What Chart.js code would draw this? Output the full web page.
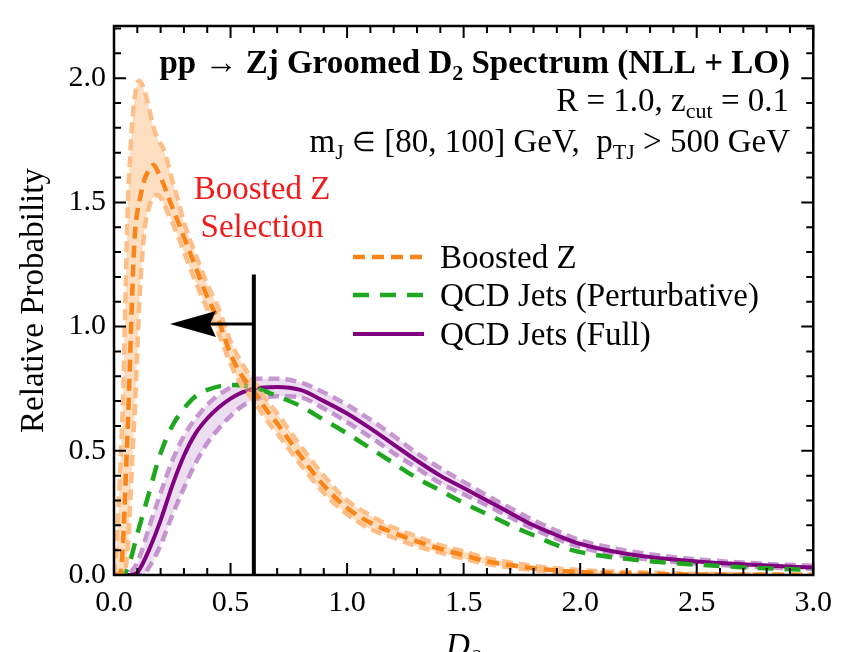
<!DOCTYPE html>
<html><head><meta charset="utf-8">
<script src="https://cdn.jsdelivr.net/npm/chart.js@4.4.1/dist/chart.umd.min.js"></script>
<style>html,body{margin:0;padding:0;background:#fff;}#wrap{width:842px;height:652px;position:relative;}</style>
</head><body><div id="wrap"><canvas id="c" width="842" height="652"></canvas></div>
<script>
// ---------- data ----------
const orangeX = [0,0.01,0.02,0.03,0.04,0.05,0.06,0.07,0.08,0.09,
  0.10,0.11,0.13,0.15,0.17,0.19,0.21,0.23,0.25,0.28,
  0.30,0.35,0.40,0.45,0.50,0.55,0.60,0.65,0.70,0.80,
  0.90,1.0,1.1,1.2,1.3,1.4,1.5,1.6,1.7,1.8,
  2.0,2.2,2.4,2.7,3.0];
const boostedZ = [0,0,0,0.02,0.15,0.38,0.62,0.9,1.18,1.38,
  1.46,1.51,1.59,1.63,1.65,1.62,1.58,1.53,1.48,1.41,
  1.36,1.24,1.12,1.02,0.89,0.80,0.74,0.67,0.61,0.48,
  0.36,0.27,0.21,0.17,0.135,0.105,0.08,0.055,0.04,0.027,
  0.012,0.006,0.003,0.001,0];
const boostedZUpper = [0,0.1,0.28,0.5,0.75,1.15,1.5,1.7,1.84,1.93,
  1.98,1.99,1.95,1.88,1.80,1.75,1.72,1.66,1.59,1.49,
  1.42,1.29,1.17,1.07,0.94,0.85,0.78,0.71,0.65,0.52,
  0.40,0.30,0.24,0.19,0.155,0.12,0.095,0.068,0.05,0.036,
  0.02,0.012,0.007,0.003,0.001];
const boostedZLower = [0,0,0,0,0,0.03,0.12,0.3,0.5,0.68,
  0.9,1.12,1.38,1.48,1.52,1.53,1.50,1.46,1.42,1.35,
  1.30,1.18,1.07,0.97,0.85,0.76,0.70,0.63,0.57,0.445,
  0.33,0.245,0.185,0.15,0.115,0.09,0.065,0.045,0.03,0.02,
  0.006,0.002,0.001,0,0];

const purpleX = [0,0.05,0.07,0.1,0.12,0.15,0.2,0.25,0.3,0.35,
  0.4,0.45,0.5,0.55,0.6,0.7,0.8,0.9,1.0,1.1,
  1.2,1.3,1.4,1.5,1.6,1.7,1.8,1.9,2.0,2.2,
  2.4,2.6,2.8,3.0];
const qcdFull = [0,0,0,0.01,0.04,0.1,0.22,0.36,0.48,0.57,
  0.63,0.675,0.71,0.735,0.75,0.757,0.745,0.70,0.65,0.59,
  0.525,0.46,0.40,0.35,0.30,0.25,0.20,0.16,0.125,0.085,
  0.062,0.048,0.038,0.03];
const qcdFullUpper = [0,0,0.01,0.05,0.1,0.19,0.33,0.46,0.56,0.63,
  0.685,0.725,0.755,0.775,0.79,0.79,0.775,0.735,0.685,0.625,
  0.56,0.49,0.43,0.375,0.32,0.27,0.22,0.178,0.14,0.098,
  0.072,0.056,0.045,0.037];
const qcdFullLower = [0,0,0,0,0,0.03,0.12,0.24,0.35,0.45,
  0.53,0.59,0.64,0.68,0.705,0.72,0.715,0.67,0.615,0.555,
  0.49,0.43,0.37,0.325,0.28,0.232,0.185,0.145,0.112,0.074,
  0.053,0.04,0.031,0.024];

const greenX = [0,0.03,0.06,0.1,0.15,0.2,0.25,0.3,0.35,0.4,
  0.5,0.6,0.7,0.8,0.9,1.0,1.1,1.2,1.3,1.4,
  1.5,1.6,1.7,1.8,1.9,2.0,2.2,2.4,2.6,2.8,3.0];
const qcdPert = [0,0,0.03,0.165,0.33,0.49,0.6,0.67,0.72,0.745,
  0.765,0.755,0.72,0.68,0.625,0.57,0.51,0.45,0.39,0.34,
  0.29,0.245,0.2,0.16,0.12,0.092,0.065,0.048,0.036,0.027,0.02];

const xTickValues = [0,0.5,1.0,1.5,2.0,2.5,3.0];
const yTickValues = [0,0.5,1.0,1.5,2.0];
const legendLabels = ['Boosted Z','QCD Jets (Perturbative)','QCD Jets (Full)'];
const selectionLabel = ['Boosted Z','Selection'];
const selectionCut = 0.6, selectionTop = 1.21, arrowY = 1.01, arrowTip = 0.24;

// ---------- styles ----------
const SERIF = "'Liberation Serif','Times New Roman',serif";
const C_OR = '#F98518', C_OR_EDGE = '#FDBE88', C_OR_FILL = 'rgba(252,185,125,0.48)';
const C_GR = '#1FA71F';
const C_PU = '#800080', C_PU_EDGE = '#C798D0', C_PU_FILL = 'rgba(180,120,200,0.25)';

const pts = (xs, ys) => xs.map((x, i) => ({x: x, y: ys[i]}));
const common = {pointRadius: 0, cubicInterpolationMode: 'monotone', borderCapStyle: 'butt'};

const datasets = [
  Object.assign({label: 'Boosted Z', data: pts(orangeX, boostedZ), borderColor: C_OR, borderWidth: 4.5, borderDash: [12, 7], fill: false}, common),
  Object.assign({label: 'BZ upper', data: pts(orangeX, boostedZUpper), borderColor: C_OR_EDGE, borderWidth: 4.5, borderDash: [11, 6], fill: '+1', backgroundColor: C_OR_FILL}, common),
  Object.assign({label: 'BZ lower', data: pts(orangeX, boostedZLower), borderColor: C_OR_EDGE, borderWidth: 4.5, borderDash: [11, 6], fill: false}, common),
  Object.assign({label: 'QCD pert', data: pts(greenX, qcdPert), borderColor: C_GR, borderWidth: 4.5, borderDash: [16, 11], fill: false}, common),
  Object.assign({label: 'QCD full', data: pts(purpleX, qcdFull), borderColor: C_PU, borderWidth: 4, fill: false}, common),
  Object.assign({label: 'QCD upper', data: pts(purpleX, qcdFullUpper), borderColor: C_PU_EDGE, borderWidth: 4.5, borderDash: [11, 6], fill: '+1', backgroundColor: C_PU_FILL}, common),
  Object.assign({label: 'QCD lower', data: pts(purpleX, qcdFullLower), borderColor: C_PU_EDGE, borderWidth: 4.5, borderDash: [11, 6], fill: false}, common)
];

function drawRich(ctx, segs, xRight, y) {
  let total = 0;
  segs.forEach(s => { ctx.font = s[1]; total += ctx.measureText(s[0]).width; });
  let x = xRight - total;
  segs.forEach(s => { ctx.font = s[1]; ctx.fillText(s[0], x, y + (s[2] || 0)); x += ctx.measureText(s[0]).width; });
}

const decor = {
  id: 'decor',
  afterDatasetsDraw(chart) {
    const ctx = chart.ctx, a = chart.chartArea;
    const xs = chart.scales.x, ys = chart.scales.y;
    ctx.save();
    // selection line and arrow
    const px = xs.getPixelForValue(selectionCut);
    ctx.strokeStyle = '#000'; ctx.lineWidth = 4; ctx.setLineDash([]);
    ctx.beginPath(); ctx.moveTo(px, ys.getPixelForValue(0)); ctx.lineTo(px, ys.getPixelForValue(selectionTop)); ctx.stroke();
    const ay = ys.getPixelForValue(arrowY);
    const tip = xs.getPixelForValue(arrowTip);
    ctx.lineWidth = 3;
    ctx.beginPath(); ctx.moveTo(px, ay); ctx.lineTo(tip + 40, ay); ctx.stroke();
    ctx.fillStyle = '#000';
    ctx.beginPath(); ctx.moveTo(tip, ay); ctx.lineTo(tip + 46, ay - 13); ctx.lineTo(tip + 40, ay); ctx.lineTo(tip + 46, ay + 13); ctx.closePath(); ctx.fill();

    // frame
    ctx.lineWidth = 2.5; ctx.strokeStyle = '#000';
    ctx.strokeRect(a.left, a.top, a.right - a.left, a.bottom - a.top);
    // ticks (inside, all four sides)
    ctx.lineWidth = 2;
    for (let i = 0; i <= 30; i++) {
      const v = i / 10, p = xs.getPixelForValue(v), L = (i % 5 === 0) ? 12 : 7;
      ctx.beginPath(); ctx.moveTo(p, a.bottom); ctx.lineTo(p, a.bottom - L); ctx.moveTo(p, a.top); ctx.lineTo(p, a.top + L); ctx.stroke();
    }
    for (let i = 0; i <= 22; i++) {
      const v = i / 10, p = ys.getPixelForValue(v), L = (i % 5 === 0) ? 12 : 7;
      if (p < a.top - 0.5) continue;
      ctx.beginPath(); ctx.moveTo(a.left, p); ctx.lineTo(a.left + L, p); ctx.moveTo(a.right, p); ctx.lineTo(a.right - L, p); ctx.stroke();
    }

    // header text
    ctx.fillStyle = '#000'; ctx.textAlign = 'left'; ctx.textBaseline = 'alphabetic';
    const B = 'bold 33px ' + SERIF, Bs = 'bold 22px ' + SERIF, N = '33px ' + SERIF, Ns = '22px ' + SERIF, Nm = '27px ' + SERIF;
    drawRich(ctx, [['pp \u2192 Zj Groomed D', B], ['2', Bs, 7], [' Spectrum (NLL + LO)', B]], 790, 73);
    drawRich(ctx, [['R = 1.0, z', N], ['cut', Ns, 7], [' = 0.1', N]], 789, 111);
    drawRich(ctx, [['m', N], ['J', Ns, 7], [' ', N], ['\u2208', Nm, -1], [' [80, 100] GeV,  p', N], ['TJ', Ns, 7], [' > 500 GeV', N]], 790, 152);

    // red selection label
    ctx.fillStyle = '#F21B1B'; ctx.font = N; ctx.textAlign = 'center';
    ctx.fillText(selectionLabel[0], 262, 199);
    ctx.fillText(selectionLabel[1], 262, 237);

    // legend
    const rows = [257, 295, 334];
    const styles = [[C_OR, [12, 7], 4.5], [C_GR, [16, 11], 4.5], [C_PU, [], 4]];
    ctx.textAlign = 'left'; ctx.fillStyle = '#000'; ctx.font = N;
    legendLabels.forEach((t, i) => {
      ctx.strokeStyle = styles[i][0]; ctx.setLineDash(styles[i][1]); ctx.lineWidth = styles[i][2];
      ctx.beginPath(); ctx.moveTo(353, rows[i]); ctx.lineTo(424, rows[i]); ctx.stroke();
      ctx.setLineDash([]);
      ctx.fillText(t, 440, rows[i] + 11);
    });
    ctx.restore();
  }
};

new Chart(document.getElementById('c'), {
  type: 'line',
  data: {datasets: datasets},
  options: {
    responsive: false, animation: false, devicePixelRatio: 1,
    layout: {padding: {top: 14, right: 23, left: 0, bottom: 0}},
    plugins: {legend: {display: false}, tooltip: {enabled: false}, title: {display: false}},
    scales: {
      x: {
        type: 'linear', min: 0, max: 3,
        afterFit: s => { s.height = 77; },
        afterBuildTicks: s => { s.ticks = xTickValues.map(v => ({value: v})); },
        ticks: {callback: v => v.toFixed(1), font: {family: SERIF, size: 30}, color: '#000', padding: 10, maxRotation: 0, autoSkip: false},
        grid: {display: false, drawTicks: false}, border: {display: false},
        title: {display: true, text: 'D\u2082', color: '#000', font: {family: SERIF, size: 33, style: 'italic'}, padding: {top: 0, bottom: -15}}
      },
      y: {
        type: 'linear', min: 0, max: 2.21,
        afterFit: s => { s.width = 114; },
        afterBuildTicks: s => { s.ticks = yTickValues.map(v => ({value: v})); },
        ticks: {callback: v => v.toFixed(1), font: {family: SERIF, size: 30}, color: '#000', padding: 8, autoSkip: false},
        grid: {display: false, drawTicks: false}, border: {display: false},
        title: {display: true, text: 'Relative Probability', color: '#000', font: {family: SERIF, size: 33}, padding: {top: 15, bottom: 0}}
      }
    }
  },
  plugins: [decor]
});
</script></body></html>
